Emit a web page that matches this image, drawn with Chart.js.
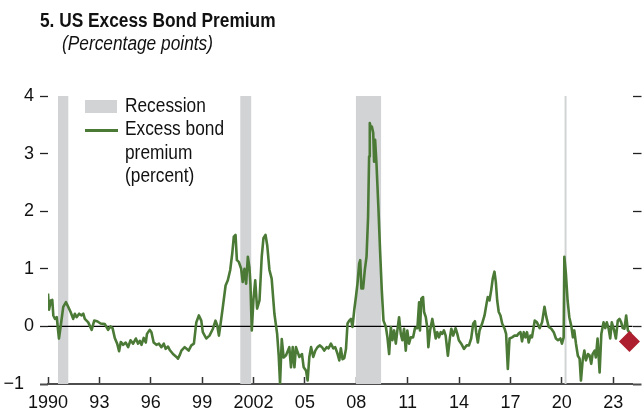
<!DOCTYPE html>
<html>
<head>
<meta charset="utf-8">
<script src="https://cdn.jsdelivr.net/npm/chart.js@4.4.1/dist/chart.umd.min.js"></script>
<style>
    body { margin: 0; background: #ffffff; }
    #wrap { position: relative; width: 643px; height: 411px; font-family: 'Liberation Sans', Arial, sans-serif; color: #111; }
    #ebp-chart { position: absolute; left: 0; top: 0; }
    .narrow { position: absolute; white-space: nowrap; transform: scaleX(0.865); transform-origin: 0 0; }
    .title { left: 40px; top: 10px; font-size: 20px; line-height: 20px; font-weight: bold; }
    .subtitle { left: 62px; top: 33px; font-size: 20px; line-height: 20px; font-style: italic; }
    .legend-text { left: 125px; top: 94px; font-size: 20px; line-height: 23.3px; }
    .legend-box { position: absolute; left: 85px; top: 100px; width: 32px; height: 13px; background: #d1d3d4; }
    .legend-line { position: absolute; left: 85px; top: 129px; width: 33px; height: 3px; background: #4b7a36; }
</style>
</head>
<body>
<div id="wrap">
    <canvas id="ebp-chart" width="643" height="411"></canvas>
    <div class="narrow title">5. US Excess Bond Premium</div>
    <div class="narrow subtitle">(Percentage points)</div>
    <div class="legend-box"></div>
    <div class="legend-line"></div>
    <div class="narrow legend-text">Recession<br>Excess bond<br>premium<br>(percent)</div>
</div>
<script>
// US excess bond premium, readings taken off the chart

// x axis ticks
var tickYears = [1990, 1993, 1996, 1999, 2002, 2005, 2008, 2011, 2014, 2017, 2020, 2023];
var tickLabels = ['1990', '93', '96', '99', '2002', '05', '08', '11', '14', '17', '20', '23'];
var yTicks = [-1, 0, 1, 2, 3, 4];

// recession shading
var recessionStart = [1990.58, 2001.22, 2007.97, 2020.15];
var recessionEnd = [1991.20, 2001.88, 2009.46, 2020.29];

// excess bond premium series
var ebpYears = [
    1990.00, 1990.06, 1990.17, 1990.25, 1990.31, 1990.41, 1990.51, 1990.64, 1990.74, 1990.89,
    1991.05, 1991.18, 1991.32, 1991.47, 1991.57, 1991.67, 1991.82, 1991.96, 1992.06, 1992.15,
    1992.35, 1992.55, 1992.70, 1992.87, 1993.07, 1993.32, 1993.51, 1993.65, 1993.77, 1993.90,
    1994.04, 1994.15, 1994.25, 1994.39, 1994.54, 1994.68, 1994.82, 1994.97, 1995.13, 1995.26,
    1995.36, 1995.46, 1995.59, 1995.71, 1995.78, 1995.94, 1996.04, 1996.17, 1996.33, 1996.48,
    1996.62, 1996.76, 1996.87, 1997.01, 1997.11, 1997.30, 1997.50, 1997.59, 1997.69, 1997.79,
    1997.98, 1998.21, 1998.37, 1998.52, 1998.66, 1998.81, 1998.95, 1999.04, 1999.24, 1999.43,
    1999.63, 1999.78, 1999.88, 1999.98, 2000.08, 2000.21, 2000.37, 2000.50, 2000.64, 2000.76,
    2000.85, 2000.95, 2001.03, 2001.14, 2001.28, 2001.37, 2001.47, 2001.57, 2001.67, 2001.76,
    2001.82, 2001.90, 2002.00, 2002.10, 2002.21, 2002.35, 2002.48, 2002.58, 2002.70, 2002.80,
    2002.93, 2003.06, 2003.22, 2003.38, 2003.47, 2003.55, 2003.65, 2003.76, 2003.90, 2004.09,
    2004.19, 2004.29, 2004.39, 2004.48, 2004.58, 2004.68, 2004.83, 2004.93, 2005.07, 2005.16,
    2005.26, 2005.36, 2005.49, 2005.61, 2005.74, 2005.88, 2006.00, 2006.13, 2006.27, 2006.38,
    2006.52, 2006.66, 2006.77, 2006.91, 2007.01, 2007.10, 2007.20, 2007.30, 2007.40, 2007.49,
    2007.59, 2007.69, 2007.78, 2007.88, 2007.98, 2008.07, 2008.17, 2008.23, 2008.30, 2008.40,
    2008.50, 2008.60, 2008.69, 2008.75, 2008.79, 2008.85, 2008.91, 2008.99, 2009.04, 2009.10,
    2009.18, 2009.29, 2009.39, 2009.49, 2009.59, 2009.73, 2009.82, 2009.92, 2010.02, 2010.11,
    2010.21, 2010.31, 2010.40, 2010.50, 2010.60, 2010.69, 2010.79, 2010.89, 2010.98, 2011.08,
    2011.18, 2011.32, 2011.43, 2011.57, 2011.67, 2011.72, 2011.80, 2011.90, 2011.96, 2012.06,
    2012.15, 2012.21, 2012.31, 2012.44, 2012.54, 2012.64, 2012.73, 2012.83, 2012.93, 2013.02,
    2013.12, 2013.22, 2013.35, 2013.47, 2013.55, 2013.66, 2013.80, 2013.90, 2013.99, 2014.13,
    2014.29, 2014.44, 2014.58, 2014.71, 2014.83, 2014.93, 2015.00, 2015.10, 2015.20, 2015.35,
    2015.49, 2015.61, 2015.68, 2015.78, 2015.88, 2015.97, 2016.07, 2016.15, 2016.23, 2016.32,
    2016.42, 2016.52, 2016.66, 2016.75, 2016.85, 2016.95, 2017.10, 2017.24, 2017.39, 2017.49,
    2017.59, 2017.68, 2017.78, 2017.88, 2017.97, 2018.07, 2018.17, 2018.26, 2018.42, 2018.55,
    2018.71, 2018.85, 2018.99, 2019.10, 2019.24, 2019.39, 2019.53, 2019.66, 2019.78, 2019.92,
    2020.01, 2020.11, 2020.15, 2020.24, 2020.34, 2020.44, 2020.56, 2020.65, 2020.73, 2020.83,
    2020.94, 2021.04, 2021.12, 2021.22, 2021.32, 2021.41, 2021.53, 2021.62, 2021.72, 2021.80,
    2021.92, 2021.99, 2022.09, 2022.21, 2022.31, 2022.44, 2022.54, 2022.63, 2022.73, 2022.83,
    2022.92, 2023.06, 2023.16, 2023.27, 2023.37, 2023.47, 2023.56, 2023.66, 2023.76, 2023.86,
    2023.94, 2024.05
];
var ebpValues = [
    0.57, 0.29, 0.45, 0.46, 0.19, 0.13, 0.16, -0.21, 0.00, 0.34,
    0.42, 0.34, 0.25, 0.13, 0.22, 0.16, 0.22, 0.19, 0.22, 0.13,
    0.07, -0.06, 0.10, 0.09, 0.05, 0.04, -0.06, 0.00, -0.03, -0.20,
    -0.30, -0.43, -0.27, -0.32, -0.28, -0.36, -0.24, -0.30, -0.21, -0.30,
    -0.25, -0.32, -0.20, -0.28, -0.13, -0.06, -0.10, -0.28, -0.32, -0.30,
    -0.36, -0.30, -0.39, -0.35, -0.41, -0.48, -0.53, -0.56, -0.50, -0.42,
    -0.36, -0.42, -0.33, -0.30, 0.07, 0.19, 0.10, -0.10, -0.21, -0.16,
    -0.04, 0.10, 0.02, -0.16, 0.05, 0.34, 0.71, 0.80, 0.98, 1.27,
    1.56, 1.59, 1.15, 1.12, 1.00, 0.77, 1.00, 0.74, 1.21, 1.03,
    0.74, -0.07, 0.48, 0.80, 0.31, 0.45, 1.21, 1.53, 1.59, 1.41,
    0.98, 0.83, 0.22, -0.13, -0.50, -0.99, -0.22, -0.54, -0.50, -0.36,
    -0.71, -0.36, -0.71, -0.36, -0.45, -0.53, -0.48, -0.71, -0.77, -0.94,
    -0.53, -0.36, -0.53, -0.42, -0.36, -0.33, -0.36, -0.42, -0.36, -0.38,
    -0.30, -0.38, -0.36, -0.48, -0.59, -0.38, -0.57, -0.55, -0.39, 0.05,
    0.10, 0.13, -0.01, 0.28, 0.51, 0.74, 1.09, 1.15, 0.66, 0.66,
    0.98, 1.21, 1.90, 2.95, 3.53, 3.44, 3.47, 3.36, 2.86, 3.24,
    2.83, 2.08, 1.32, 0.63, 0.10, -0.01, -0.19, -0.48, -0.01, -0.24,
    -0.07, -0.30, -0.07, 0.16, -0.13, -0.24, -0.04, -0.42, -0.07, -0.30,
    -0.19, -0.19, -0.03, -0.03, 0.42, -0.07, 0.48, 0.51, 0.25, 0.16,
    -0.03, -0.36, -0.07, 0.13, -0.03, -0.21, -0.10, -0.19, -0.10, -0.13,
    -0.07, -0.16, -0.51, -0.19, -0.04, -0.16, -0.03, -0.13, -0.24, -0.30,
    -0.39, -0.33, -0.33, -0.21, 0.05, 0.09, -0.10, -0.28, -0.07, 0.05,
    0.19, 0.40, 0.51, 0.45, 0.63, 0.83, 0.95, 0.77, 0.45, 0.25,
    0.19, 0.05, -0.04, -0.13, -0.74, -0.21, -0.19, -0.16, -0.16, -0.12,
    -0.10, -0.26, -0.10, -0.19, -0.10, -0.28, -0.16, -0.19, 0.10, 0.07,
    -0.03, 0.07, 0.34, 0.16, -0.01, -0.04, -0.10, -0.21, -0.24, -0.21,
    -0.30, -0.19, 1.21, 0.92, 0.45, 0.16, 0.00, -0.19, -0.07, -0.30,
    -0.51, -0.56, -0.94, -0.59, -0.42, -0.59, -0.48, -0.50, -0.65, -0.48,
    -0.42, -0.54, -0.21, -0.80, -0.13, 0.07, -0.03, 0.07, -0.03, -0.21,
    0.07, -0.07, -0.21, 0.10, 0.13, 0.07, -0.03, -0.04, 0.19, -0.07,
    -0.10, -0.13
];

// latest reading marker
var latestYear = [2023.95];
var latestValue = [-0.26];

var fontFamily = "'Liberation Sans', Arial, sans-serif";

// recession rectangles as filled line segments, broken by gaps
function buildRecessionPoints() {
    var pts = [];
    for (var i = 0; i < recessionStart.length; i++) {
        pts.push({ x: recessionStart[i], y: 4 });
        pts.push({ x: recessionEnd[i], y: 4 });
        pts.push({ x: recessionEnd[i], y: null });
    }
    return pts;
}

function buildSeries(xs, ys) {
    var pts = [];
    for (var i = 0; i < xs.length; i++) {
        pts.push({ x: xs[i], y: ys[i] });
    }
    return pts;
}

// dark tick marks, the -1 one matches the axis line
function tickColorFor(c) {
    return c.tick && c.tick.value === -1 ? '#4d4d4d' : '#222222';
}
function tickWidthFor(c) {
    return c.tick && c.tick.value === -1 ? 2 : 1.3;
}

var ctx = document.getElementById('ebp-chart').getContext('2d');

var chart = new Chart(ctx, {
    type: 'line',
    data: {
        datasets: [{
            // latest value diamond
            data: buildSeries(latestYear, latestValue),
            showLine: false,
            pointStyle: 'rectRot',
            pointRadius: 10.5,
            backgroundColor: '#ad1f2f',
            borderWidth: 0,
            clip: false,
            order: -1
        }, {
            data: buildSeries(ebpYears, ebpValues),
            borderColor: '#4b7a36',
            borderWidth: 2.6,
            borderJoinStyle: 'round',
            pointRadius: 0,
            tension: 0,
            order: 0
        }, {
            // zero line
            data: [{ x: 1989, y: 0 }, { x: 2026, y: 0 }],
            borderColor: '#000000',
            borderWidth: 1.2,
            pointRadius: 0,
            order: 1
        }, {
            data: buildRecessionPoints(),
            borderWidth: 0,
            borderColor: 'rgba(0,0,0,0)',
            backgroundColor: '#d1d3d4',
            fill: 'start',
            spanGaps: false,
            pointRadius: 0,
            order: 2
        }]
    },
    options: {
        responsive: false,
        animation: false,
        layout: {
            padding: { top: 96, left: 0, right: 0, bottom: 0 }
        },
        scales: {
            x: {
                type: 'linear',
                min: 1990,
                max: 2024.13,
                afterBuildTicks: function (scale) {
                    scale.ticks = tickYears.map(function (v) { return { value: v }; });
                },
                afterFit: function (scale) {
                    scale.height = 27;
                },
                ticks: {
                    autoSkip: false,
                    maxRotation: 0,
                    padding: 15,
                    color: '#111111',
                    font: { family: fontFamily, size: 18 },
                    callback: function (value, index) {
                        return tickLabels[index];
                    }
                },
                grid: {
                    drawOnChartArea: false,
                    tickLength: -7,
                    tickColor: '#333333',
                    tickWidth: 1.5
                },
                border: { display: true, color: '#4d4d4d', width: 2 }
            },
            y: {
                position: 'left',
                min: -1,
                max: 4,
                afterBuildTicks: function (scale) {
                    scale.ticks = yTicks.map(function (v) { return { value: v }; });
                },
                afterFit: function (scale) {
                    scale.width = 48;
                },
                ticks: {
                    padding: 6,
                    color: '#111111',
                    font: { family: fontFamily, size: 18 },
                    callback: function (value) {
                        return value < 0 ? '\u2212' + Math.abs(value) + '\u2007' : String(value);
                    }
                },
                grid: {
                    drawOnChartArea: false,
                    tickLength: 8,
                    tickColor: tickColorFor,
                    tickWidth: tickWidthFor
                },
                border: { display: false }
            },
            yRight: {
                position: 'right',
                min: -1,
                max: 4,
                afterBuildTicks: function (scale) {
                    scale.ticks = yTicks.map(function (v) { return { value: v }; });
                },
                afterFit: function (scale) {
                    scale.width = 9;
                },
                ticks: { display: false },
                grid: {
                    drawOnChartArea: false,
                    tickLength: 9,
                    tickColor: tickColorFor,
                    tickWidth: tickWidthFor
                },
                border: { display: false }
            }
        },
        plugins: {
            legend: { display: false },
            tooltip: { enabled: false },
            title: { display: false }
        }
    }
});
</script>
</body>
</html>
